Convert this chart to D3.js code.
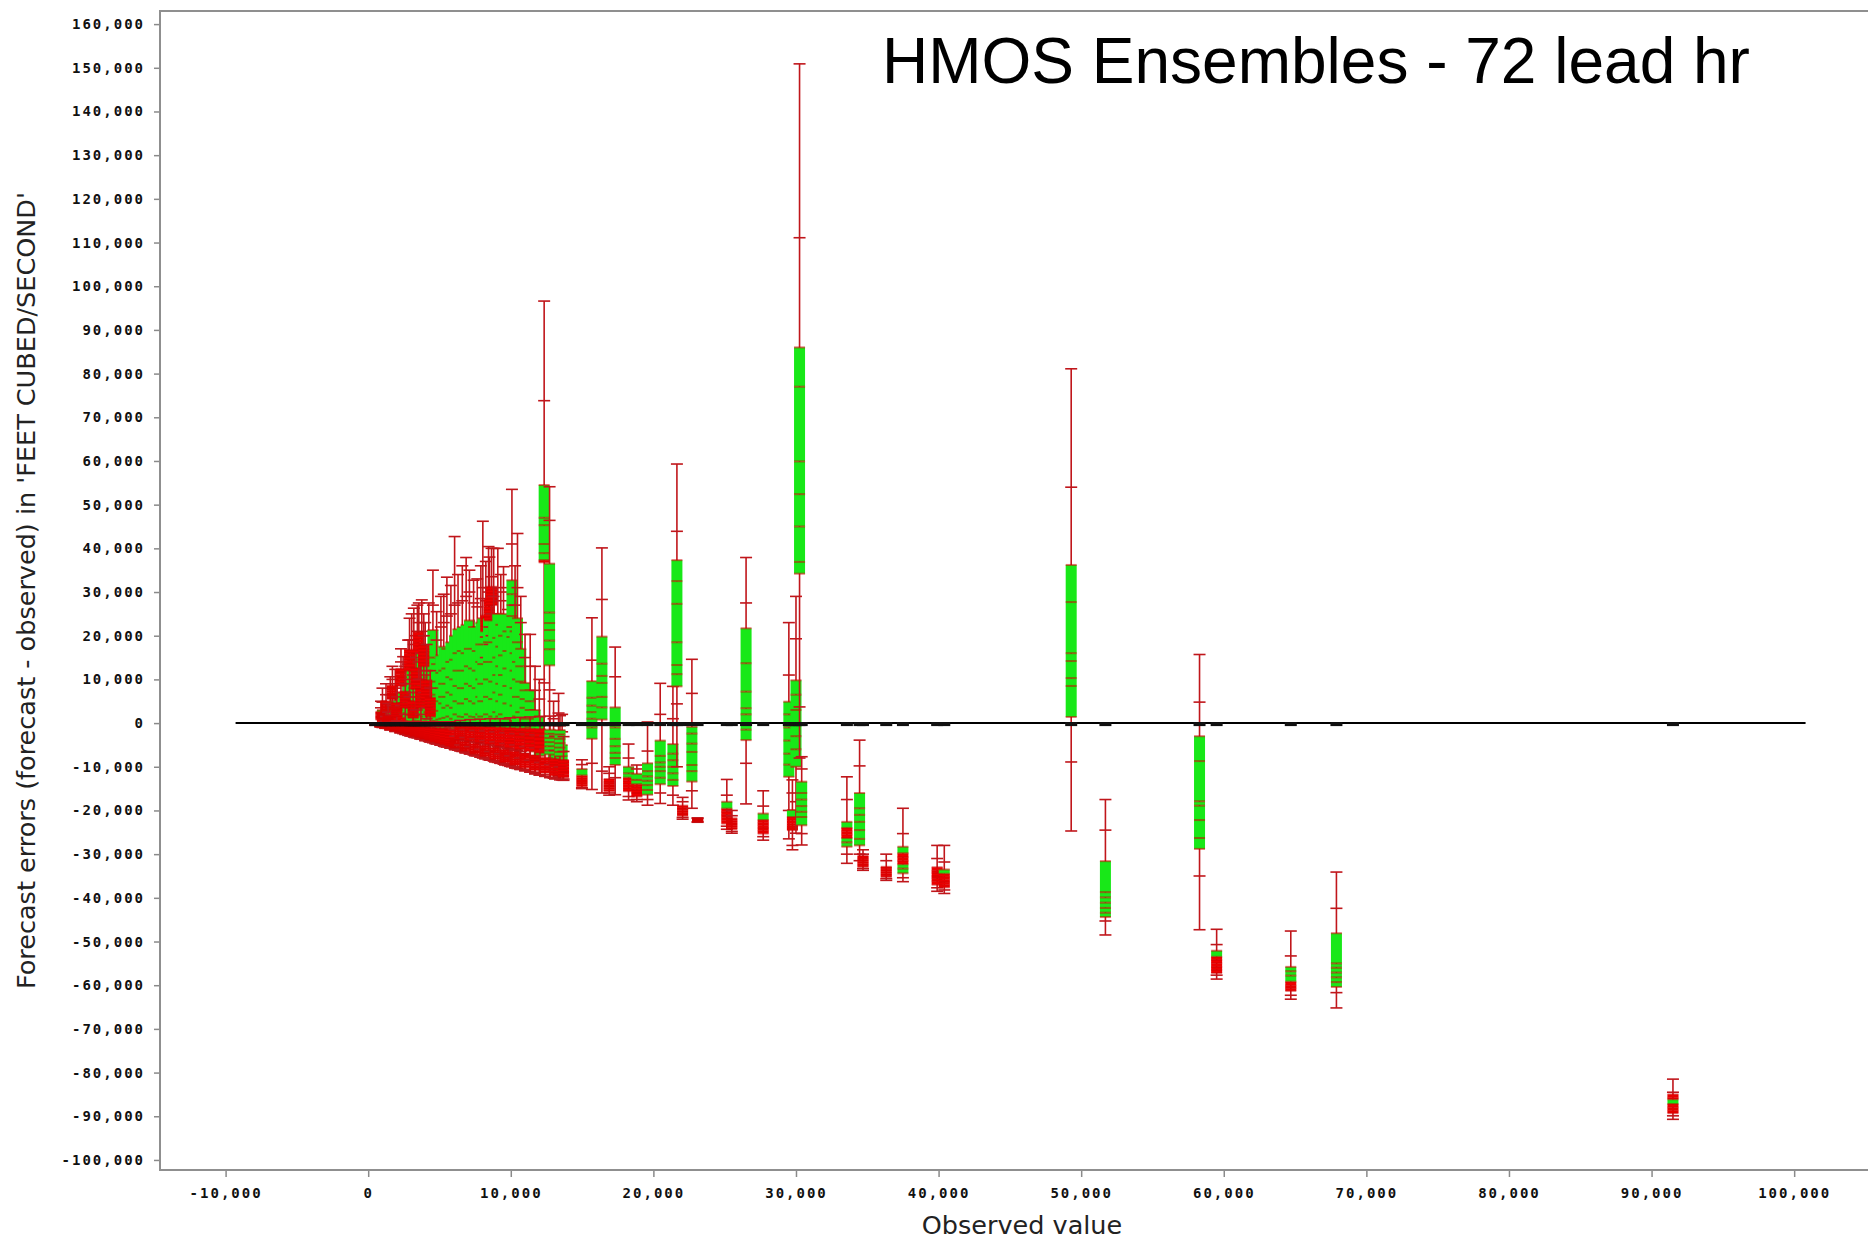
<!DOCTYPE html>
<html lang="en">
<head>
<meta charset="utf-8">
<title>HMOS Ensembles - 72 lead hr</title>
<script src="https://d3js.org/d3.v7.min.js"></script>
<style>
  body { margin: 0; background: #fff; }
  .tick text { font-family: "DejaVu Sans Mono", monospace; font-weight: bold; font-size: 14px; letter-spacing: 2px; fill: #111; }
  .tick line { stroke: #8a8a8a; stroke-width: 1.5; }
</style>
</head>
<body>
<div id="chart"></div>
<script>
// each row: observed value, then error deciles p0, p10, p20 ... p100
var wetRuns = [
  [1000, -1000, -600, -200, 100, 400, 800, 1300, 2000, 3000, 4800, 8000],
  [1550, -1500, -900, -300, 200, 600, 1100, 1800, 2800, 4200, 6500, 10600],
  [1900, -1900, -1100, -400, 100, 600, 1300, 2200, 3400, 5200, 8000, 12300],
  [2450, -2400, -1400, -500, 200, 900, 1800, 3000, 4600, 7000, 10500, 15200],
  [2800, -2800, -1600, -600, 300, 1200, 2300, 3800, 5800, 8800, 13500, 19000],
  [3050, -3000, -1800, -700, 500, 1800, 3500, 6000, 9000, 13500, 19000, 25000],
  [3200, -3200, -1900, -800, 400, 1500, 3000, 5000, 8000, 12000, 18000, 26300],
  [3450, -3400, -2000, -700, 600, 2000, 4000, 7000, 11000, 16000, 21000, 27000],
  [3760, -3700, -2200, -900, 500, 1800, 3500, 6000, 9500, 14500, 20000, 28200],
  [4000, -4000, -2400, -1000, 300, 1500, 3000, 5000, 8000, 12000, 17500, 23000],
  [4250, -4200, -2500, -800, 800, 2500, 4500, 7000, 10500, 15500, 21000, 27500],
  [4540, -4500, -2700, -900, 1000, 3000, 9200, 12000, 15000, 21300, 27000, 35000],
  [4800, -4800, -2900, -1000, 500, 2000, 4000, 6500, 9500, 13500, 19000, 25500],
  [5100, -5000, -3000, -1100, 800, 2800, 5000, 8000, 11500, 15500, 22000, 29000],
  [5300, -5300, -3200, -1200, 1000, 4500, 6000, 9000, 12000, 17500, 23000, 29500],
  [5520, -5500, -3300, -1200, 1200, 3500, 6000, 9000, 12500, 17000, 24500, 33400],
  [5800, -5700, -3400, -1000, 1500, 4000, 7000, 10500, 14000, 18500, 25000, 31500],
  [6060, -6000, -3600, -1300, 1000, 3500, 6500, 10000, 14500, 20000, 27000, 42700],
  [6300, -6200, -3700, -1000, 2000, 5000, 8500, 12000, 16000, 21500, 27500, 34000],
  [6600, -6500, -3900, -1400, 1500, 4500, 8000, 12000, 16500, 22000, 28000, 36000],
  [6870, -6800, -4000, -1500, 1400, 4500, 8000, 12000, 16000, 22500, 29000, 37900],
  [7100, -7000, -4200, -1500, 2000, 5500, 9000, 13000, 17000, 23500, 30000, 35000],
  [7390, -7300, -4300, -1200, 1500, 5000, 8500, 12500, 17000, 22000, 27500, 32700],
  [7650, -7500, -4400, -1000, 1400, 4500, 8000, 12000, 16500, 22000, 26600, 33000],
  [7900, -7800, -4600, -1200, 2000, 6000, 10000, 14000, 18000, 23000, 28500, 36000],
  [8040, -8000, -4700, -1100, 1500, 5000, 9000, 13500, 18000, 24000, 31000, 46200],
  [8250, 15000, 19700, 21000, 21600, 22200, 22800, 23400, 24000, 24600, 28000, 37000],
  [8440, -8400, -5000, -1000, 2000, 6000, 10000, 14000, 18500, 24000, 30000, 40400],
  [8500, 18000, 22000, 23500, 24300, 25100, 25900, 26700, 27500, 28300, 31000, 38000],
  [8650, 20000, 25000, 27000, 27700, 28400, 29100, 29800, 30500, 31200, 33500, 40000],
  [8800, -8700, -5200, -1200, 1500, 5500, 9500, 14000, 18500, 23500, 29000, 40000],
  [9090, -9000, -5400, -1000, 2500, 7000, 11000, 15000, 19500, 25000, 31000, 40000],
  [9300, -9200, -5500, -1500, 1500, 5000, 9000, 13000, 17500, 22500, 28000, 34000],
  [9490, -9400, -5600, -1300, 2000, 6500, 11000, 15500, 20000, 25000, 30000, 35800],
  [9800, -9700, -5800, -2000, 1000, 4500, 8500, 12500, 16500, 21000, 26000, 31000],
  [10080, -10000, -6000, 1000, 19700, 22000, 24500, 27000, 29500, 32700, 41000, 53500],
  [10300, -10200, -6200, -2500, 500, 4000, 8000, 12000, 16000, 21000, 27000, 36000],
  [10470, -10400, -6200, -2000, 1500, 6000, 10000, 14000, 18500, 24000, 31000, 43400],
  [10700, -10600, -6500, -3000, -500, 2500, 6000, 9500, 13000, 17000, 23000, 29000],
  [11000, -10900, -7000, -4000, -1500, 1000, 3500, 5500, 7500, 9200, 15000, 20300],
  [11360, -11200, -7500, -5000, -3000, -1000, 1000, 3000, 5000, 7500, 13000, 20300],
  [11700, -11600, -8500, -6500, -5000, -3500, -2000, -500, 1000, 3000, 7500, 13000],
  [12000, -11900, -9000, -7500, -6000, -4500, -3000, -1500, 0, 1500, 5500, 10000],
  [12340, -3000, 9200, 36800, 37300, 38900, 41000, 45300, 47000, 54500, 73800, 96600],
  [12720, -4000, 7600, 13200, 16900, 18900, 21300, 22900, 25300, 36500, 46400, 54100],
  [13000, -12600, -11000, -9500, -8000, -6800, -5500, -4300, -3200, -2300, 1000, 5000],
  [13350, -12000, -11300, -10800, -9500, -8200, -7000, -5800, -4600, -2400, 2300, 6800],
  [13600, -13000, -12200, -11500, -10500, -9500, -8500, -7500, -6500, -5000, -2000, 2000]
];

// narrow-spread runs in the low-flow fan
var tightRuns = [
  [900, -400, 0, 800, 1100, 1400, 1700, 2000, 2300, 2600, 3500, 5000],
  [1250, 0, 1500, 2500, 2900, 3300, 3700, 4100, 4500, 5000, 6500, 9000],
  [1400, -1200, -800, -300, 0, 300, 600, 900, 1200, 1600, 2500, 4500],
  [1700, 2000, 4000, 5500, 6000, 6500, 7000, 7500, 8000, 8600, 10000, 13000],
  [2000, -500, 500, 1500, 2000, 2500, 3000, 3500, 4000, 4600, 6000, 9000],
  [2300, 4000, 7000, 8500, 9200, 9900, 10500, 11100, 11700, 12400, 14000, 17000],
  [2600, 0, 2000, 3500, 4100, 4700, 5300, 5900, 6500, 7200, 9000, 13000],
  [2900, 6000, 10000, 12000, 12800, 13600, 14400, 15200, 16000, 16800, 19000, 24000],
  [3150, -1500, 0, 1200, 1800, 2400, 3000, 3600, 4200, 5000, 7000, 11000],
  [3350, 3000, 6000, 7800, 8600, 9400, 10200, 11000, 11800, 12600, 15000, 20000],
  [3550, 10000, 14000, 16000, 16800, 17600, 18400, 19200, 20000, 20800, 23000, 27500],
  [3700, 0, 2000, 3500, 4200, 4900, 5600, 6300, 7000, 7800, 10000, 16000],
  [3900, 7000, 11000, 13000, 13800, 14600, 15400, 16200, 17000, 17800, 20000, 25000],
  [4100, 1000, 3500, 5500, 6200, 6900, 7600, 8300, 9000, 9800, 12000, 18000],
  [4350, -2000, 0, 1500, 2200, 2900, 3600, 4300, 5000, 5800, 8000, 12000]
];

// runs forecasting well below the observation (lower fan)
var dryRuns = [
  [500, -500, -480, -450, -410, -360, -300, -240, -180, -120, -60, 0],
  [850, -850, -820, -770, -700, -620, -530, -430, -330, -230, -130, 50],
  [1200, -1200, -1150, -1080, -990, -870, -740, -600, -460, -320, -180, 100],
  [1550, -1550, -1490, -1400, -1280, -1130, -960, -780, -600, -420, -230, 150],
  [1900, -1900, -1820, -1710, -1560, -1380, -1170, -950, -730, -510, -280, 200],
  [2250, -2250, -2160, -2030, -1850, -1640, -1400, -1140, -870, -600, -330, 200],
  [2600, -2600, -2500, -2340, -2140, -1890, -1610, -1310, -1000, -690, -380, 250],
  [2950, -2950, -2830, -2660, -2430, -2150, -1830, -1490, -1140, -790, -430, 300],
  [3300, -3300, -3170, -2970, -2720, -2400, -2050, -1670, -1280, -880, -480, 300],
  [3650, -3650, -3500, -3290, -3000, -2660, -2260, -1840, -1410, -970, -530, 300],
  [4000, -4000, -3840, -3600, -3290, -2910, -2480, -2020, -1540, -1060, -580, 300],
  [4350, -4350, -4180, -3920, -3580, -3170, -2700, -2200, -1680, -1160, -640, 300],
  [4700, -4700, -4510, -4230, -3870, -3420, -2910, -2370, -1820, -1260, -690, 300],
  [5050, -5050, -4850, -4550, -4150, -3680, -3130, -2550, -1950, -1350, -740, 300],
  [5400, -5400, -5180, -4860, -4440, -3930, -3350, -2730, -2090, -1440, -790, 300],
  [5750, -5750, -5520, -5180, -4730, -4190, -3560, -2900, -2220, -1540, -850, 300],
  [6100, -6100, -5900, -5680, -5400, -5100, -4800, -4500, -4200, -3900, -3000, -1500],
  [6450, -6400, -5000, -3700, -3200, -2700, -2200, -1700, -1200, -700, -200, 600],
  [6800, -6800, -6600, -6330, -6000, -5700, -5350, -5000, -4650, -4300, -3300, -1500],
  [7150, -7100, -5400, -4000, -3450, -2900, -2350, -1800, -1250, -700, -200, 800],
  [7500, -7500, -7270, -6980, -6620, -6260, -5880, -5500, -5120, -4750, -3600, -1700],
  [7850, -7800, -6000, -4400, -3800, -3200, -2600, -2000, -1400, -800, -200, 900],
  [8200, -8200, -7950, -7630, -7240, -6850, -6440, -6030, -5610, -5200, -4000, -1800],
  [8550, -8500, -6500, -4800, -4150, -3500, -2850, -2200, -1550, -900, -200, 1000],
  [8900, -8900, -8620, -8280, -7860, -7440, -7000, -6550, -6100, -5650, -4300, -2000],
  [9250, -9200, -7000, -5200, -4500, -3800, -3100, -2400, -1700, -1000, -300, 1000],
  [9600, -9600, -9300, -8930, -8480, -8020, -7550, -7060, -6570, -6100, -4700, -2200],
  [9950, -9900, -7500, -5600, -4850, -4100, -3350, -2600, -1850, -1100, -300, 1200],
  [10300, -10300, -9980, -9580, -9100, -8600, -8100, -7580, -7050, -6550, -5000, -2400],
  [10650, -10600, -8000, -6000, -5200, -4400, -3600, -2800, -2000, -1200, -400, 1300],
  [11000, -10900, -10600, -10200, -9700, -9200, -8650, -8100, -7550, -7000, -5400, -2500],
  [11350, -11200, -8500, -6400, -5550, -4700, -3850, -3000, -2150, -1300, -400, 1400],
  [11700, -11600, -11250, -10800, -10300, -9750, -9200, -8600, -8000, -7400, -5700, -2700],
  [12050, -11900, -9000, -6800, -5900, -5000, -4100, -3200, -2300, -1400, -500, 1500],
  [12400, -12200, -11850, -11400, -10850, -10300, -9700, -9100, -8500, -7900, -6000, -2900],
  [12750, -12500, -9500, -7200, -6250, -5300, -4350, -3400, -2450, -1500, -500, 1600],
  [13100, -12800, -12450, -12000, -11450, -10850, -10200, -9550, -8900, -8250, -6300, -3000],
  [13450, -13000, -10000, -7600, -6600, -5600, -4600, -3600, -2600, -1600, -600, 1700],
  [13700, -13100, -12800, -12400, -11800, -11200, -10550, -9900, -9200, -8500, -6500, -3100]
];

var midRuns = [
  [14990, -15000, -14800, -14500, -14000, -13500, -13000, -12500, -12000, -10500, -9500, -8400],
  [15690, -15200, -9200, -3600, -1000, 1000, 2500, 4000, 5800, 9600, 14400, 24100],
  [16390, -16000, -11000, 800, 3600, 6000, 9200, 10800, 13600, 19800, 28300, 40100],
  [16900, -16500, -16000, -15600, -15200, -14800, -14400, -14000, -13500, -12800, -11500, -10000],
  [17320, -16400, -12500, -9600, -8000, -6800, -5300, -3600, -1000, 3600, 10600, 17400],
  [18260, -17600, -16800, -15600, -14800, -14000, -13200, -12500, -11500, -10000, -8000, -4800],
  [18840, -18000, -17500, -16800, -16000, -15300, -14600, -14000, -13000, -11600, -10500, -9600],
  [19590, -18800, -17500, -16400, -15300, -14200, -13200, -12200, -11000, -9200, -6400, 250],
  [20480, -18400, -16000, -14000, -12500, -11000, -10000, -9000, -7500, -4000, 2000, 9100],
  [21370, -18800, -16500, -14400, -13000, -11500, -10000, -8500, -7000, -4800, 1000, 8400],
  [21650, -10000, 4400, 8400, 11200, 13300, 18500, 27300, 32500, 37300, 43900, 59300],
  [22050, -22000, -21600, -21200, -20800, -20400, -20000, -19700, -19400, -18900, -18000, -17000],
  [22700, -19500, -15500, -13400, -11000, -9600, -6600, -4700, -2400, -840, 6800, 14600],
  [23100, -22700, -22600, -22500, -22400, -22300, -22200, -22100, -22000, -21900, -21800, -21700],
  [25150, -24300, -23600, -23000, -22300, -21600, -21000, -20300, -19600, -18000, -16500, -12900],
  [25500, -25200, -24800, -24300, -23900, -23500, -23100, -22700, -22300, -21800, -21200, -20000],
  [26500, -18500, -9200, -3900, -1500, 2000, 3400, 7200, 13700, 21700, 27500, 37900],
  [27700, -26800, -26000, -25300, -24600, -24000, -23400, -22800, -22200, -20700, -19000, -15500],
  [29500, -26500, -20000, -12300, -9500, -7000, -4000, -1000, 2000, 4900, 11000, 23000],
  [29750, -29000, -28000, -24500, -24000, -23500, -23000, -22300, -21500, -19900, -16000, -13000],
  [30000, -25200, -18000, -10000, -6000, -3000, 0, 3000, 6500, 9800, 19300, 29000],
  [30250, -8000, 3700, 34200, 36900, 45000, 52400, 59900, 77000, 86000, 111100, 150900],
  [30400, -27900, -25300, -23400, -21500, -20300, -19000, -17500, -16000, -13400, -10500, -7700],
  [33570, -32100, -30000, -28300, -27300, -26300, -25500, -24800, -24000, -22600, -17500, -12300],
  [34460, -31500, -30000, -28000, -26500, -24500, -22600, -21000, -19500, -16000, -9800, -3900],
  [34700, -33700, -33300, -32900, -32500, -32100, -31700, -31300, -30900, -30400, -30000, -29000],
  [36330, -36000, -35600, -35200, -34800, -34400, -34000, -33600, -33200, -32900, -31500, -30000],
  [37500, -36300, -35400, -34400, -33300, -32300, -31500, -30700, -29800, -28300, -25300, -19500],
  [39900, -38500, -37700, -37000, -36200, -35500, -35000, -34300, -33800, -33000, -31000, -28000],
  [40400, -39000, -38200, -37600, -37000, -36400, -35800, -35200, -34500, -33500, -31800, -28000]
];

var farRuns = [
  [49300, -24700, -8900, 1400, 8500, 10300, 14200, 16000, 27700, 36200, 54000, 81100],
  [51700, -48500, -45300, -44400, -43400, -42300, -41100, -39900, -38700, -31600, -24500, -17500],
  [58300, -47300, -35000, -28800, -26300, -22200, -18900, -17900, -8700, -3000, 4800, 15700],
  [59500, -58600, -57700, -57200, -56500, -55800, -55000, -54200, -53500, -52100, -50700, -47200],
  [64700, -63200, -62300, -61300, -60700, -60100, -59200, -57800, -56800, -55800, -53300, -47600],
  [67900, -65200, -61700, -60400, -59300, -58200, -57100, -56000, -55000, -48100, -42400, -34100],
  [91500, -90700, -89900, -89300, -88700, -88000, -87200, -86100, -85700, -85000, -84500, -81500]
];

var zeroLineSpan = [-9300, 100800];
var xTicks = d3.range(-10000, 100001, 10000);
var yTicks = d3.range(-100000, 160001, 10000);

var width = 1868,
    height = 1239;
var plotLeft = 160, plotRight = 1884, plotTop = 11, plotBottom = 1170;

var fmt = d3.formatLocale({decimal: ".", thousands: ",", grouping: [3], currency: ["", ""], minus: "-"}).format(",");

var x = d3.scaleLinear().domain([-14600, 106300]).range([plotLeft, plotRight]);
var y = d3.scaleLinear().domain([-102300, 163000]).range([plotBottom, plotTop]);

var svg = d3.select("#chart").append("svg")
            .attr("width", width)
            .attr("height", height)
            .style("background", "#fff");

// axes
svg.append("g")
   .attr("transform", "translate(" + (plotLeft - 1) + ",0)")
   .call(d3.axisLeft(y).tickValues(yTicks).tickFormat(fmt).tickSize(5).tickPadding(9))
   .call(function(g) { g.select(".domain").remove(); });

svg.append("g")
   .attr("transform", "translate(0," + (plotBottom + 1) + ")")
   .call(d3.axisBottom(x).tickValues(xTicks).tickFormat(fmt).tickSize(6).tickPadding(11))
   .call(function(g) { g.select(".domain").remove(); });

// frame (left, bottom, top)
svg.append("path")
   .attr("d", "M" + plotRight + "," + plotTop + "H" + plotLeft + "V" + plotBottom + "H" + plotRight)
   .attr("fill", "none")
   .attr("stroke", "#8f8f8f")
   .attr("stroke-width", 2);

var plot = svg.append("g");

var boxW = 11, capW = 12;
var green = "#18e818", denseRed = "#f00000", whiskerRed = "#c0161b";
var denseBand = 4;   // px: decile bands thinner than this merge into solid red

function drawRuns(rows) {
  plot.append("g").selectAll("g")
      .data(rows)
      .join("g")
      .each(function(r) {
        var g = d3.select(this),
            cx = x(r[0]),
            q = r.slice(1);
        g.append("line")
         .attr("x1", cx).attr("x2", cx)
         .attr("y1", y(q[0])).attr("y2", y(q[10]))
         .attr("stroke", whiskerRed).attr("stroke-width", 1.6);
        [0, 1, 9, 10].forEach(function(i) {
          g.append("line")
           .attr("x1", cx - capW / 2).attr("x2", cx + capW / 2)
           .attr("y1", y(q[i])).attr("y2", y(q[i]))
           .attr("stroke", whiskerRed).attr("stroke-width", 1.6);
        });
        // box p20..p80 as decile bands
        for (var i = 2; i < 8; i++) {
          var top = y(q[i + 1]), h = y(q[i]) - y(q[i + 1]);
          g.append("rect")
           .attr("x", cx - boxW / 2)
           .attr("y", top)
           .attr("width", boxW)
           .attr("height", Math.max(1, h))
           .attr("fill", h < denseBand ? denseRed : green);
        }
        for (var j = 2; j <= 8; j++) {
          g.append("line")
           .attr("x1", cx - boxW / 2).attr("x2", cx + boxW / 2)
           .attr("y1", y(q[j])).attr("y2", y(q[j]))
           .attr("stroke", "#d00000").attr("stroke-width", 2).attr("stroke-opacity", 0.55);
        }
      });
}

drawRuns(wetRuns);
drawRuns(tightRuns);
drawRuns(dryRuns);
drawRuns(midRuns);
drawRuns(farRuns);

// zero error line and observed markers
plot.append("line")
    .attr("x1", x(zeroLineSpan[0])).attr("x2", x(zeroLineSpan[1]))
    .attr("y1", y(0)).attr("y2", y(0))
    .attr("stroke", "#000").attr("stroke-width", 2);

plot.append("g").selectAll("rect")
    .data(wetRuns.concat(tightRuns, dryRuns, midRuns, farRuns))
    .join("rect")
    .attr("x", function(d) { return x(d[0]) - 6; })
    .attr("y", y(0) - 1)
    .attr("width", 12)
    .attr("height", 4)
    .attr("fill", "#111");

// titles
svg.append("text")
   .attr("x", 882).attr("y", 83)
   .attr("font-family", "Liberation Sans, Arial, sans-serif")
   .attr("font-size", 64)
   .text("HMOS Ensembles - 72 lead hr");

svg.append("text")
   .attr("x", (plotLeft + plotRight) / 2).attr("y", 1234)
   .attr("text-anchor", "middle")
   .attr("font-family", "DejaVu Sans, sans-serif")
   .attr("font-size", 25.5)
   .attr("fill", "#222")
   .text("Observed value");

svg.append("text")
   .attr("transform", "translate(35," + ((plotTop + plotBottom) / 2) + ") rotate(-90)")
   .attr("text-anchor", "middle")
   .attr("font-family", "DejaVu Sans, sans-serif")
   .attr("font-size", 25.5)
   .attr("fill", "#222")
   .text("Forecast errors (forecast - observed) in 'FEET CUBED/SECOND'");
</script>
</body>
</html>
